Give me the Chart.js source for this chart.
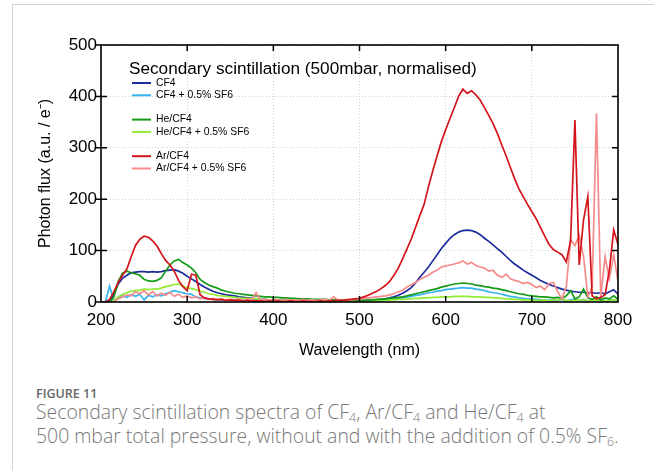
<!DOCTYPE html>
<html><head><meta charset="utf-8">
<script src="https://cdn.jsdelivr.net/npm/chart.js@4.4.1/dist/chart.umd.min.js"></script>
<style>
html,body{margin:0;padding:0;background:#fff;}
body{width:654px;height:470px;position:relative;overflow:hidden;font-family:"Liberation Sans",Arial,sans-serif;}
#frame{position:absolute;left:12px;top:4px;right:-10px;bottom:-10px;border-left:1px solid #d4d4d4;border-top:1px solid #d4d4d4;}
#wrap{position:absolute;left:0;top:0;width:654px;height:365px;}
#fig{position:absolute;left:36px;top:385px;font-family:"Open Sans",sans-serif;font-weight:600;font-size:12.5px;line-height:18px;color:#666;}
#cap{position:absolute;left:36px;top:400px;font-family:"Open Sans",sans-serif;font-weight:300;font-size:19.4px;line-height:24px;color:#777;white-space:nowrap;}
sub{font-size:12.5px;vertical-align:-3px;line-height:0}
</style></head>
<body>
<div id="frame"></div>
<div id="wrap"><canvas id="c" width="654" height="365"></canvas></div>
<div id="fig">FIGURE 11</div>
<div id="cap">Secondary scintillation spectra of CF<sub>4</sub>, Ar/CF<sub>4</sub> and He/CF<sub>4</sub> at<br>500 mbar total pressure, without and with the addition of 0.5% SF<sub>6</sub>.</div>
<script>
const chartTitle = "Secondary scintillation (500mbar, normalised)";
const xTitle = "Wavelength (nm)";
const yTitle = "Photon flux (a.u. / e\u207B)";
const seriesNames = ["CF4", "CF4 + 0.5% SF6", "He/CF4", "He/CF4 + 0.5% SF6", "Ar/CF4", "Ar/CF4 + 0.5% SF6"];
const seriesColors = ["#1c2c9c", "#36b4f0", "#159a17", "#93ea35", "#d3141b", "#f78b8b"];
const xTicks = [200, 300, 400, 500, 600, 700, 800];
const yTicks = [0, 100, 200, 300, 400, 500];

// wavelength sampling grid, 200..800 nm every 5 nm
const wavelengths = Array.from({length: 121}, (_, i) => 200 + 5 * i);

const cf4 = [
  0, 0, 2, 15, 35, 46, 52, 57, 58, 59,
  59, 58, 59, 58, 59, 61, 62, 63, 60, 56,
  50, 45, 40, 34, 29, 25, 21, 18, 16, 14,
  13, 12, 10, 9, 8, 7, 6, 5, 5, 4,
  4, 3, 3, 3, 2, 2, 2, 2, 2, 2,
  2, 2, 2, 2, 2, 2, 2, 2, 2, 2,
  2, 3, 3, 4, 4, 5, 6, 8, 10, 13,
  17, 22, 28, 37, 48, 58, 68, 80, 92, 104,
  114, 124, 131, 136, 139, 140, 139, 136, 131, 124,
  118, 111, 104, 97, 89, 81, 74, 68, 62, 57,
  52, 47, 42, 38, 34, 31, 28, 25, 23, 21,
  20, 19, 19, 18, 18, 17, 18, 16, 20, 24,
  15
];
const cf4Sf6 = [
  0, 0, 31, 2, 8, 12, 9, 14, 11, 15,
  4, 13, 10, 14, 12, 16, 19, 22, 20, 18,
  16, 15, 10, 8, 7, 6, 5, 5, 4, 4,
  3, 3, 3, 3, 2, 3, 2, 2, 2, 2,
  2, 2, 2, 2, 2, 2, 2, 2, 2, 2,
  2, 2, 2, 2, 2, 2, 2, 2, 2, 2,
  2, 2, 2, 3, 3, 4, 4, 5, 6, 7,
  8, 10, 11, 13, 14, 16, 18, 19, 21, 22,
  24, 25, 26, 27, 28, 27, 27, 25, 24, 22,
  20, 18, 17, 15, 13, 11, 10, 8, 7, 6,
  6, 5, 4, 4, 3, 4, 3, 5, 2, 4,
  6, 3, 5, 2, 4, 3, 6, 2, 4, 3,
  2
];
const heCf4 = [
  0, 0, 0, 10, 40, 56, 60, 57, 55, 52,
  44, 41, 40, 42, 47, 60, 72, 80, 83, 77,
  72, 66, 57, 44, 38, 33, 30, 27, 23, 21,
  19, 17, 16, 15, 14, 13, 12, 11, 10, 10,
  9, 9, 8, 8, 7, 7, 6, 6, 6, 5,
  5, 5, 5, 4, 4, 4, 4, 3, 3, 3,
  3, 3, 3, 4, 5, 5, 6, 7, 8, 9,
  10, 12, 14, 16, 18, 20, 22, 24, 26, 29,
  31, 33, 35, 36, 37, 36, 35, 33, 32, 30,
  29, 27, 26, 24, 22, 20, 18, 16, 15, 13,
  12, 11, 10, 10, 9, 8, 9, 7, 12, 22,
  6, 10, 25, 8, 5, 10, 4, 8, 6, 12,
  5
];
const heCf4Sf6 = [
  0, 0, 0, 3, 10, 15, 18, 21, 22, 23,
  25, 24, 25, 25, 27, 30, 32, 34, 35, 31,
  28, 26, 24, 21, 19, 16, 15, 13, 12, 11,
  10, 9, 8, 7, 7, 6, 6, 5, 5, 4,
  4, 4, 3, 3, 3, 3, 3, 2, 2, 2,
  2, 2, 2, 2, 2, 2, 2, 2, 2, 2,
  2, 2, 2, 2, 2, 3, 3, 4, 4, 5,
  5, 6, 6, 7, 7, 8, 8, 9, 9, 10,
  10, 10, 11, 11, 11, 11, 10, 10, 10, 9,
  9, 8, 8, 7, 6, 6, 5, 5, 4, 4,
  4, 3, 3, 4, 2, 5, 3, 6, 3, 2,
  4, 3, 5, 2, 3, 4, 3, 2, 3, 4,
  2
];
const arCf4 = [
  0, 0, 5, 20, 38, 52, 64, 88, 110, 122,
  128, 126, 119, 109, 94, 81, 72, 60, 42, 30,
  22, 54, 52, 14, 8, 6, 5, 4, 5, 3,
  4, 3, 3, 2, 3, 2, 2, 2, 1, 2,
  1, 2, 1, 1, 2, 1, 1, 2, 1, 1,
  1, 2, 1, 2, 2, 3, 3, 4, 5, 6,
  7, 10, 13, 17, 21, 26, 32, 40, 52, 66,
  84, 103, 122, 145, 168, 190, 224, 255, 284, 312,
  335, 357, 378, 400, 414, 406, 411, 403, 393, 378,
  363, 347, 328, 306, 285, 262, 240, 220, 205, 190,
  176, 162, 145, 128, 112, 102, 97, 92, 78, 120,
  354, 72, 160, 205, 12, 6, 9, 14, 62, 140,
  112
];
const arCf4Sf6 = [
  0, 0, 0, 1, 6, 10, 14, 12, 20, 16,
  22, 14, 20, 12, 17, 13, 19, 11, 15, 9,
  12, 8, 10, 6, 8, 5, 7, 5, 6, 4,
  5, 4, 6, 3, 5, 4, 18, 4, 5, 3,
  5, 4, 3, 5, 3, 4, 3, 5, 3, 4,
  3, 4, 5, 3, 10, 4, 3, 5, 4, 5,
  6, 7, 8, 9, 10, 11, 12, 14, 16, 20,
  23, 29, 33, 38, 44, 48, 52, 58, 62, 68,
  70, 72, 74, 76, 80, 74, 77, 71, 68, 66,
  60, 62, 52, 48, 54, 45, 42, 40, 36, 38,
  34, 28, 31, 24, 36, 38, 20, 6, 30, 121,
  110, 130, 88, 10, 30, 367, 10, 88, 45, 92,
  40
];

const seriesValues = [cf4, cf4Sf6, heCf4, heCf4Sf6, arCf4, arCf4Sf6];
const drawOrder = [5, 6, 3, 4, 0, 1]; // lower order drawn on top

Chart.defaults.font.family = '"Liberation Sans", Arial, Helvetica, sans-serif';
Chart.defaults.color = '#000';

const deco = {
  id: 'deco',
  afterDatasetsDraw(chart) {
    const {ctx, chartArea: a, scales: {x, y}} = chart;
    ctx.save();
    ctx.strokeStyle = '#000';
    ctx.lineWidth = 1.5;
    ctx.beginPath();
    yTicks.forEach(v => {
      const py = y.getPixelForValue(v);
      ctx.moveTo(a.left - 5, py); ctx.lineTo(a.left + (v > 0 && v < 500 ? 6 : 0), py);
      if (v > 0 && v < 500) { ctx.moveTo(a.right, py); ctx.lineTo(a.right - 6, py); }
    });
    xTicks.forEach(v => {
      if (v <= 200 || v >= 800) return;
      const px = x.getPixelForValue(v);
      ctx.moveTo(px, a.top); ctx.lineTo(px, a.top + 6);
      ctx.moveTo(px, a.bottom); ctx.lineTo(px, a.bottom - 6);
    });
    ctx.stroke();
    ctx.lineWidth = 1.6;
    ctx.strokeRect(a.left, a.top, a.right - a.left, a.bottom - a.top);
    ctx.restore();
  },
  afterDraw(chart) {
    const {ctx, chartArea: a} = chart;
    ctx.save();
    ctx.fillStyle = '#000';
    ctx.textBaseline = 'alphabetic';
    ctx.font = '17.2px "Liberation Sans", Arial, sans-serif';
    ctx.fillText(chartTitle, a.left + 28, a.top + 29);
    ctx.font = '10.4px "Liberation Sans", Arial, sans-serif';
    ctx.textBaseline = 'middle';
    chart.data.datasets.forEach((ds, i) => {
      const yy = a.top + 38 + i * 12.3 + Math.floor(i / 2) * 12;
      ctx.strokeStyle = ds.borderColor;
      ctx.lineWidth = 2;
      ctx.beginPath(); ctx.moveTo(a.left + 31, yy); ctx.lineTo(a.left + 50, yy); ctx.stroke();
      ctx.fillText(ds.label, a.left + 55, yy);
    });
    ctx.restore();
  }
};

new Chart(document.getElementById('c'), {
  type: 'line',
  data: {
    datasets: seriesNames.map((name, i) => ({
      label: name,
      data: wavelengths.map((w, j) => ({x: w, y: seriesValues[i][j]})),
      borderColor: seriesColors[i],
      backgroundColor: seriesColors[i],
      borderWidth: 1.7,
      pointRadius: 0,
      tension: 0,
      fill: false,
      order: drawOrder[i]
    }))
  },
  options: {
    responsive: false,
    animation: false,
    events: [],
    layout: {padding: {left: 0, right: 36, top: 45, bottom: 0}},
    plugins: {legend: {display: false}, tooltip: {enabled: false}, title: {display: false}},
    scales: {
      x: {
        type: 'linear', min: 200, max: 800,
        afterFit: s => { s.height = 63; },
        afterBuildTicks: s => { s.ticks = xTicks.map(v => ({value: v})); },
        ticks: {font: {size: 17}, padding: 8, maxRotation: 0, color: '#000'},
        grid: {color: '#d2d2d2', lineWidth: 1, drawTicks: false},
        border: {display: false, dash: [1, 2]},
        title: {display: true, text: xTitle, font: {size: 16}, color: '#000', padding: {top: 0, bottom: 5}}
      },
      y: {
        type: 'linear', min: 0, max: 500,
        afterFit: s => { s.width = 101; },
        afterBuildTicks: s => { s.ticks = yTicks.map(v => ({value: v})); },
        ticks: {font: {size: 17}, padding: 4, color: '#000'},
        grid: {color: '#d2d2d2', lineWidth: 1, drawTicks: false},
        border: {display: false, dash: [1, 2]},
        title: {display: true, text: yTitle, font: {size: 16}, color: '#000', padding: {top: 36, bottom: 0}}
      }
    }
  },
  plugins: [deco]
});
</script>
</body></html>
